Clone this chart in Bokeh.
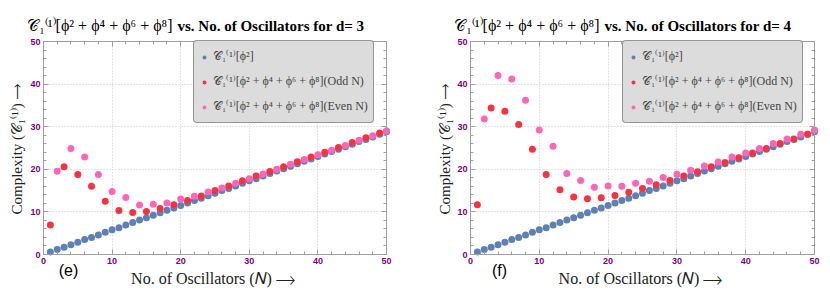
import math
from bokeh.plotting import figure
from bokeh.models import (Label, Legend, LegendItem, LinearAxis, SingleIntervalTicker,
                          Range1d, Grid)
from bokeh.layouts import row
from bokeh.embed import file_html
from bokeh.resources import INLINE

# ---------------- data ----------------
N_all = list(range(1, 51))
N_odd = list(range(1, 50, 2))
N_even = list(range(2, 51, 2))

phi2 = [0.6, 1.2, 1.7, 2.3, 2.9, 3.5, 4.0, 4.6, 5.2, 5.8,
        6.3, 6.9, 7.5, 8.1, 8.6, 9.2, 9.8, 10.4, 10.9, 11.5,
        12.1, 12.7, 13.2, 13.8, 14.4, 15.0, 15.5, 16.1, 16.7, 17.3,
        17.8, 18.4, 19.0, 19.6, 20.1, 20.7, 21.3, 21.9, 22.4, 23.0,
        23.6, 24.2, 24.7, 25.3, 25.9, 26.5, 27.0, 27.6, 28.2, 28.8]

d3_odd = [6.95, 20.6, 18.8, 16.0, 12.5, 10.3, 9.85, 10.1, 10.8, 11.7,
          12.7, 13.75, 15.0, 16.1, 17.3, 18.4, 19.5, 20.6, 21.8, 22.9,
          24.0, 25.1, 26.3, 27.4, 28.5]
d3_even = [19.55, 24.9, 22.9, 18.8, 14.8, 13.4, 11.6, 11.8, 12.1, 13.05,
           13.7, 14.7, 15.6, 16.7, 17.8, 18.9, 20.0, 21.2, 22.3, 23.4,
           24.5, 25.6, 26.8, 27.9, 29.05]

d4_odd = [11.7, 34.4, 33.6, 30.5, 24.7, 18.8, 15.2, 13.5, 13.1, 13.3,
          13.85, 14.6, 15.5, 16.4, 17.4, 18.4, 19.4, 20.6, 21.6, 22.7,
          23.85, 24.9, 26.05, 27.1, 28.2]
d4_even = [31.8, 42.0, 41.2, 36.2, 29.2, 25.4, 19.0, 17.4, 15.8, 16.1,
           16.0, 16.7, 17.2, 18.1, 18.85, 19.8, 20.8, 21.7, 22.9, 23.85,
           24.9, 26.05, 27.1, 28.2, 29.2]

AX_MIN, AX_MAX = 0, 50
title_math = "𝒞₁⁽¹⁾[ϕ² + ϕ⁴ + ϕ⁶ + ϕ⁸]"
title_rest = [" vs. No. of Oscillators for d= 3", " vs. No. of Oscillators for d= 4"]
panel_tags = ["(e)", "(f)"]
legend_labels = ["𝒞₁⁽¹⁾[ϕ²]",
                 "𝒞₁⁽¹⁾[ϕ² + ϕ⁴ + ϕ⁶ + ϕ⁸](Odd N)",
                 "𝒞₁⁽¹⁾[ϕ² + ϕ⁴ + ϕ⁶ + ϕ⁸](Even N)"]
x_label = "No. of Oscillators (𝑁) ⟶"
y_label = "Complexity (𝒞₁⁽¹⁾) ⟶"

BLUE = "#5e81b5"
RED = "#f8333f"
PINK = "#ff66b8"
PURPLE = "#800080"
FRAME = "#a0a0a0"
SERIF = "Liberation Serif"

FIG_H = 290
TOP, BOTTOM = 41, 36          # pixel space above / below the plotting box


def style_axis(ax, show_labels):
    ax.ticker = SingleIntervalTicker(interval=10, num_minor_ticks=5)
    ax.bounds = (AX_MIN, AX_MAX)
    ax.axis_line_color = FRAME
    ax.major_tick_line_color = FRAME
    ax.minor_tick_line_color = FRAME
    ax.major_tick_in = 5
    ax.major_tick_out = 0
    ax.minor_tick_in = 3
    ax.minor_tick_out = 0
    ax.major_label_text_font = "Liberation Sans"
    ax.major_label_text_font_style = "bold"
    ax.major_label_text_font_size = "9px"
    ax.major_label_standoff = 3
    ax.major_label_text_color = PURPLE if show_labels else None


def make_panel(width, lb, rb, odd_vals, even_vals, idx, layout_px):
    fw = width - lb - rb
    fh = FIG_H - TOP - BOTTOM
    span = AX_MAX - AX_MIN
    xr = Range1d(AX_MIN - lb * span / fw, AX_MAX + rb * span / fw)
    yr = Range1d(AX_MIN - BOTTOM * span / fh, AX_MAX + TOP * span / fh)
    p = figure(width=width, height=FIG_H, output_backend="svg", toolbar_location=None,
               x_range=xr, y_range=yr, x_axis_type=None, y_axis_type=None,
               min_border=0)
    p.outline_line_color = None
    p.background_fill_color = "white"
    p.border_fill_color = "white"

    for dim in (0, 1):
        g = Grid(dimension=dim, ticker=SingleIntervalTicker(interval=10),
                 bounds=(AX_MIN, AX_MAX))
        if "cross_bounds" in Grid.properties():
            g.cross_bounds = (AX_MIN, AX_MAX)
        g.grid_line_color = "#c8c8c8"
        g.grid_line_dash = "1 2"
        g.grid_line_width = 1
        p.add_layout(g)

    for side, loc, show in (("below", AX_MIN, True), ("left", AX_MIN, True),
                            ("above", AX_MAX, False), ("right", AX_MAX, False)):
        ax = LinearAxis(fixed_location=loc)
        style_axis(ax, show)
        p.add_layout(ax, side)

    r1 = p.scatter(N_all, phi2, size=7, fill_color=BLUE, line_color=None)
    r2 = p.scatter(N_odd, odd_vals, size=7, fill_color=RED, line_color=None)
    r3 = p.scatter(N_even, even_vals, size=7, fill_color=PINK, line_color=None)

    L = layout_px
    legend = Legend(items=[LegendItem(label=legend_labels[0], renderers=[r1]),
                           LegendItem(label=legend_labels[1], renderers=[r2]),
                           LegendItem(label=legend_labels[2], renderers=[r3])],
                    location=L["legend"],
                    background_fill_color="#dcdcdc", background_fill_alpha=1.0,
                    border_line_color="#505050", border_line_width=1,
                    label_text_font=SERIF, label_text_font_size="12px",
                    glyph_width=10, glyph_height=10, label_height=21,
                    spacing=4, padding=5, margin=0, label_standoff=4)
    if "border_radius" in Legend.properties():
        legend.border_radius = 4
    p.add_layout(legend)

    def lab(x, y, text, **kw):
        opts = dict(text_font=SERIF, text_font_size="15px", text_baseline="middle",
                    text_align="center", text_color="black")
        opts.update(kw)
        p.add_layout(Label(x=x, y=y, x_units="screen", y_units="screen", text=text, **opts))

    tx, ty = L["title"]
    lab(tx, ty, title_math, text_align="right", text_font_size="16px")
    lab(tx + 5, ty, title_rest[idx], text_align="left", text_font_style="bold")
    lab(lb + fw / 2, 12, x_label, text_color="#222222", text_font_size="16px")
    lab(L["ylab"], BOTTOM + fh / 2 + 2, y_label, angle=math.pi / 2, text_color="#222222")
    lab(L["tag"], 20, panel_tags[idx], text_font="Liberation Sans", text_font_size="16px")
    return p


p1 = make_panel(428, 43, 42, d3_odd, d3_even, 0,
                {"legend": (193, 167), "title": (172, 265), "ylab": 16, "tag": 68})
p2 = make_panel(402, 42, 16, d4_odd, d4_even, 1,
                {"legend": (194, 167), "title": (171, 265), "ylab": 16, "tag": 71})

layout = row(p1, p2)
open("out.html", "w").write(file_html(layout, INLINE))
